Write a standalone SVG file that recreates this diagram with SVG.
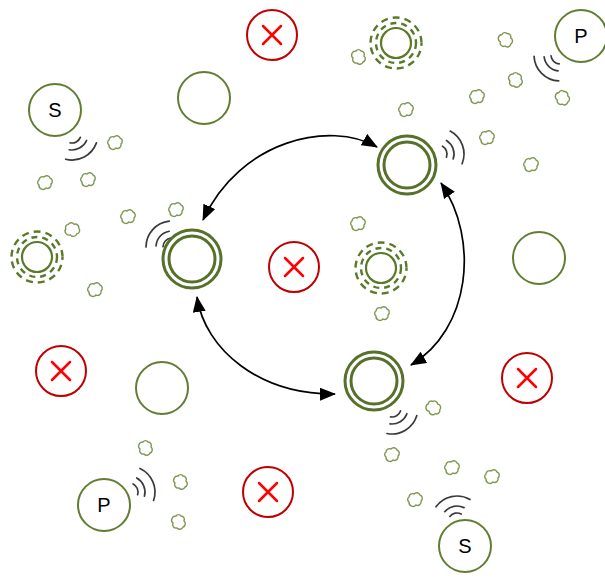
<svg xmlns="http://www.w3.org/2000/svg" xmlns:xlink="http://www.w3.org/1999/xlink" width="605" height="580" viewBox="0 0 605 580">
<style>
.plain{fill:#fff;stroke:#617d32;stroke-width:2}
.dbl{fill:#fff;stroke:#56712a;stroke-width:3}
.red{fill:#fff;stroke:#c00000;stroke-width:2}
.x{stroke:#ff0000;stroke-width:2.5;stroke-linecap:round}
.dash{fill:none;stroke:#5a7a2a;stroke-width:2.4;stroke-dasharray:6 5}
.dash2{fill:none;stroke:#5a7a2a;stroke-width:2.4;stroke-dasharray:7 5;stroke-dashoffset:4}
.solid{fill:none;stroke:#5a7a2a;stroke-width:2.2}
.cloud{fill:#fff;stroke:#7d9850;stroke-width:1.4}
.lbl{font-family:"Liberation Sans",Arial,sans-serif;font-size:20px;fill:#000;text-anchor:middle;dominant-baseline:central}
.arr{fill:none;stroke:#000;stroke-width:1.7;marker-start:url(#ah);marker-end:url(#ah)}
</style>
<defs>
<marker id="ah" viewBox="0 0 16 13" refX="15" refY="6.5" markerWidth="16" markerHeight="13" markerUnits="userSpaceOnUse" orient="auto-start-reverse">
<path d="M0,0 L16,6.5 L0,13 Z" fill="#000"/>
</marker>
<path id="cl" class="cloud" d="M-6,2 A3,3 0 0 1 -6,-3 A3.5,3.5 0 0 1 -1,-6 A3.5,3.5 0 0 1 5,-5 A3.5,3.5 0 0 1 6,1 A3.5,3.5 0 0 1 1,5 A4,4 0 0 1 -6,2 Z"/>
<g id="sig" fill="none" stroke="#3a3a3a" stroke-width="1.7" stroke-linecap="round">
<path d="M6.89,-5.79 A9,9 0 0 1 6.89,5.79"/>
<path d="M12.6,-9.85 A16,16 0 0 1 12.6,9.85"/>
<path d="M19.3,-17.4 A26,26 0 0 1 19.3,17.4"/>
</g>
</defs>
<rect width="605" height="580" fill="#fff"/>

<g id="clouds">
<use xlink:href="#cl" transform="translate(358,57) rotate(90)"/>
<use xlink:href="#cl" transform="translate(505,40) rotate(80)"/>
<use xlink:href="#cl" transform="translate(515,80) rotate(90)"/>
<use xlink:href="#cl" transform="translate(562,98) rotate(80)"/>
<use xlink:href="#cl" transform="translate(115,143)"/>
<use xlink:href="#cl" transform="translate(45,183)"/>
<use xlink:href="#cl" transform="translate(88,180)"/>
<use xlink:href="#cl" transform="translate(72,230) rotate(30)"/>
<use xlink:href="#cl" transform="translate(95,290)"/>
<use xlink:href="#cl" transform="translate(128,217)"/>
<use xlink:href="#cl" transform="translate(176,210)"/>
<use xlink:href="#cl" transform="translate(487,138)"/>
<use xlink:href="#cl" transform="translate(406,110)"/>
<use xlink:href="#cl" transform="translate(477,97)"/>
<use xlink:href="#cl" transform="translate(531,165)"/>
<use xlink:href="#cl" transform="translate(358,224)"/>
<use xlink:href="#cl" transform="translate(382,314)"/>
<use xlink:href="#cl" transform="translate(433,408) rotate(60)"/>
<use xlink:href="#cl" transform="translate(392,455)"/>
<use xlink:href="#cl" transform="translate(452,468)"/>
<use xlink:href="#cl" transform="translate(492,477)"/>
<use xlink:href="#cl" transform="translate(415,500)"/>
<use xlink:href="#cl" transform="translate(145,448) rotate(90)"/>
<use xlink:href="#cl" transform="translate(180,482) rotate(90)"/>
<use xlink:href="#cl" transform="translate(178,522) rotate(90)"/>
</g>

<g id="signals">
<use xlink:href="#sig" transform="translate(72,134) rotate(62)"/>
<use xlink:href="#sig" transform="translate(560,55) rotate(135)"/>
<use xlink:href="#sig" transform="translate(172,247) rotate(222)"/>
<use xlink:href="#sig" transform="translate(438,154) rotate(-20)"/>
<use xlink:href="#sig" transform="translate(392,408) rotate(59)"/>
<use xlink:href="#sig" transform="translate(129,492) rotate(-23)"/>
<use xlink:href="#sig" transform="translate(457,522) rotate(-102)"/>
</g>

<g id="x1"><circle class="red" cx="272" cy="35" r="25"/><path class="x" d="M263,26 L281,44 M281,26 L263,44"/></g>
<g id="x2"><circle class="red" cx="294" cy="267" r="25"/><path class="x" d="M285,258 L303,276 M303,258 L285,276"/></g>
<g id="x3"><circle class="red" cx="61" cy="371" r="25"/><path class="x" d="M52,362 L70,380 M70,362 L52,380"/></g>
<g id="x4"><circle class="red" cx="527" cy="378" r="25"/><path class="x" d="M518,369 L536,387 M536,369 L518,387"/></g>
<g id="x5"><circle class="red" cx="268" cy="492" r="25"/><path class="x" d="M259,483 L277,501 M277,483 L259,501"/></g>

<g id="c1"><circle class="plain" cx="204" cy="98" r="26"/></g>
<g id="c2"><circle class="plain" cx="539" cy="258" r="26"/></g>
<g id="c3"><circle class="plain" cx="162" cy="388" r="26"/></g>

<g id="d1"><circle class="solid" cx="396" cy="43" r="15"/><circle class="dash" cx="396" cy="43" r="20"/><circle class="dash2" cx="396" cy="43" r="25.5"/></g>
<g id="d2"><circle class="solid" cx="37" cy="257" r="15"/><circle class="dash" cx="37" cy="257" r="20"/><circle class="dash2" cx="37" cy="257" r="25.5"/></g>
<g id="d3"><circle class="solid" cx="381" cy="268" r="15"/><circle class="dash" cx="381" cy="268" r="20"/><circle class="dash2" cx="381" cy="268" r="25.5"/></g>

<g id="s1"><circle class="plain" cx="55" cy="110" r="26"/><text class="lbl" x="55" y="110">S</text></g>
<g id="s2"><circle class="plain" cx="465" cy="546" r="26"/><text class="lbl" x="465" y="546">S</text></g>
<g id="p1"><circle class="plain" cx="581" cy="36" r="26"/><text class="lbl" x="581" y="36">P</text></g>
<g id="p2"><circle class="plain" cx="104" cy="505" r="26"/><text class="lbl" x="104" y="505">P</text></g>

<g id="n1"><circle class="dbl" cx="407" cy="165" r="29"/><circle class="dbl" cx="407" cy="165" r="23"/></g>
<g id="n2"><circle class="dbl" cx="192" cy="259" r="29"/><circle class="dbl" cx="192" cy="259" r="23"/></g>
<g id="n3"><circle class="dbl" cx="374" cy="381" r="29"/><circle class="dbl" cx="374" cy="381" r="23"/></g>

<g id="connectors">
<path class="arr" d="M377,147 C330,120 240,140 203,220"/>
<path class="arr" d="M441,183 C480,240 470,330 411,365"/>
<path class="arr" d="M197,297 C205,350 260,395 335,394"/>
</g>
</svg>
